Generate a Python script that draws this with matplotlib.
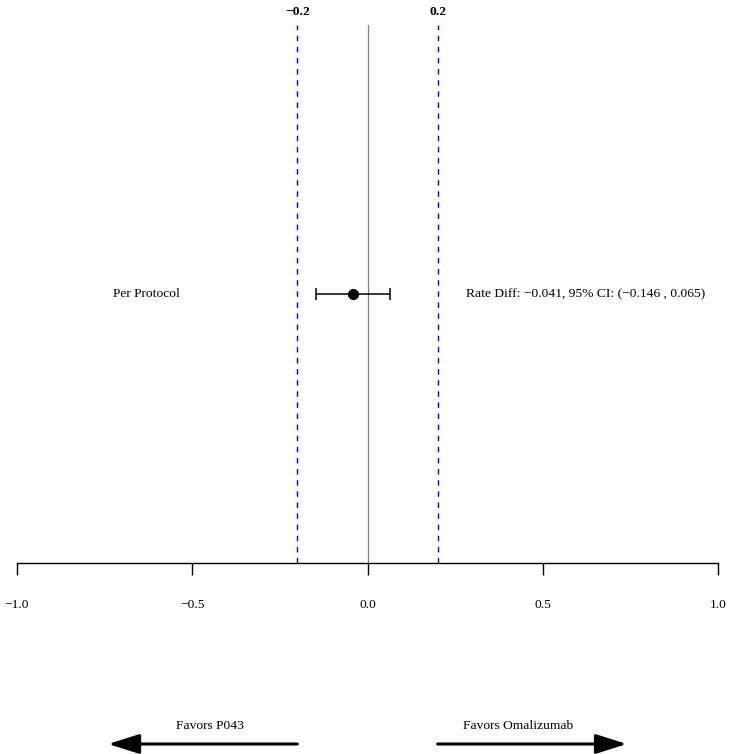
import matplotlib
matplotlib.use("Agg")
import matplotlib.pyplot as plt

# Data
label = "Per Protocol"
estimate = -0.041
ci_low = -0.146
ci_high = 0.065
margins = [-0.2, 0.2]
margin_labels = ["\u22120.2", "0.2"]
xticks = [-1.0, -0.5, 0.0, 0.5, 1.0]
xtick_labels = ["\u22121.0", "\u22120.5", "0.0", "0.5", "1.0"]
left_text = "Favors P043"
right_text = "Favors Omalizumab"
arrow_ends = [-0.74, 0.74]
text_centers = [-0.45, 0.43]
summary = "Rate Diff: \u22120.041, 95% CI: (\u22120.146 , 0.065)"

plt.rcParams['font.family'] = ['Liberation Serif', 'DejaVu Serif']
FS = 9.7

W, H = 731, 754
fig = plt.figure(figsize=(W / 100, H / 100), dpi=100)
ax = fig.add_axes([17 / W, (H - 563) / H, 701 / W, 538 / H])
ax.set_xlim(-1, 1)
ax.set_ylim(0, 1)
for s in ['top', 'left', 'right']:
    ax.spines[s].set_visible(False)
ax.spines['bottom'].set_linewidth(1.0)
ax.set_yticks([])
ax.set_xticks(xticks)
ax.set_xticklabels(xtick_labels, fontsize=FS)
ax.tick_params(axis='x', length=8.64, width=1.0, pad=17, direction='out')

# reference lines
ax.axvline(0, color='gray', lw=0.9, zorder=1)
for m, ml in zip(margins, margin_labels):
    ax.axvline(m, color='blue', lw=1.0, ls=(0, (4, 4)), zorder=1)
    ax.text(m, 1 + 13 / 538, ml, ha='center', va='center', fontsize=FS,
            fontweight='bold', transform=ax.get_xaxis_transform(), clip_on=False)

# estimate
ax.errorbar([estimate], [0.5], xerr=[[estimate - ci_low], [ci_high - estimate]],
            fmt='o', color='black', ms=7, capsize=4.3, elinewidth=1.1,
            capthick=1.1, zorder=3)
ax.text(-0.632, 0.5, label, ha='center', va='center', fontsize=FS)
ax.text(0.281, 0.5, summary, ha='left', va='center', fontsize=FS)

# arrows and favor texts
trans = ax.get_xaxis_transform()
y_arrow = (563 - 744) / 538
y_text = (563 - 726) / 538
for start, end, tc, txt in [(margins[0], arrow_ends[0], text_centers[0], left_text),
                            (margins[1], arrow_ends[1], text_centers[1], right_text)]:
    ax.annotate('', xy=(end, y_arrow), xytext=(start, y_arrow),
                xycoords=trans, textcoords=trans,
                arrowprops=dict(arrowstyle='-|>,head_length=1.9,head_width=0.6',
                                mutation_scale=10, lw=2.2, color='black',
                                shrinkA=0, shrinkB=0),
                annotation_clip=False)
    ax.text(tc, y_text, txt, ha='center', va='center',
            fontsize=FS, transform=trans, clip_on=False)

fig.savefig("out.png", dpi=100)
